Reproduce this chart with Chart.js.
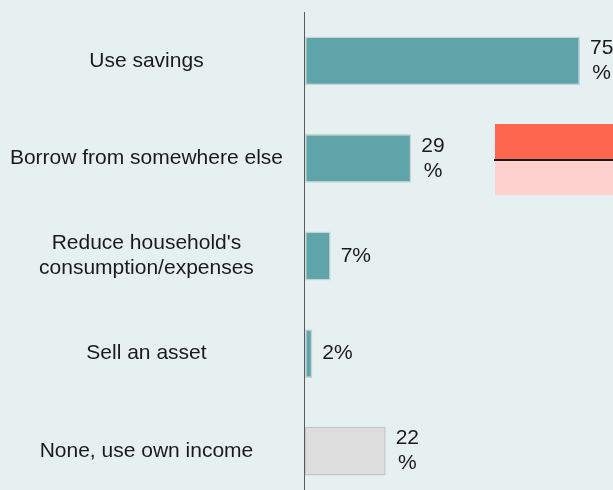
<!DOCTYPE html>
<html>
<head>
<meta charset="utf-8">
<script src="https://cdn.jsdelivr.net/npm/chart.js@4"></script>
<style>
  html, body { margin: 0; padding: 0; background: #e7f0f1; overflow: hidden; }
  #wrap { position: relative; width: 613px; height: 500px; }
  .band { position: absolute; left: 495px; width: 118px; }
</style>
</head>
<body>
<div id="wrap">
  <canvas id="coping"></canvas>
  <div class="band" style="top:124px;height:35px;background:#fe6650;"></div>
  <div class="band" style="top:161px;height:34px;background:#ffd1ce;"></div>
  <div class="band" style="top:159px;height:2px;left:494px;width:119px;background:#1a1a1a;"></div>
</div>
<script>
const categories = [
    'Use savings',
    'Borrow from somewhere else',
    ["Reduce household's", 'consumption/expenses'],
    'Sell an asset',
    'None, use own income'
];
const shares = [75, 29, 7, 2, 22];
const barColors = ['#5fa4a9', '#5fa4a9', '#5fa4a9', '#5fa4a9', '#dddddd'];
const edgeColors = ['#c7d5d6', '#c7d5d6', '#c7d5d6', '#c7d5d6', '#c4c4c4'];

const FONT = 'Liberation Sans, Arial, sans-serif';

// zero line over the bars, then the value text to the right of each bar;
// two-digit numbers break onto two lines
const valueLabels = {
    id: 'valueLabels',
    afterDatasetsDraw(chart) {
        const ctx = chart.ctx;
        const area = chart.chartArea;
        const meta = chart.getDatasetMeta(0);
        ctx.save();
        ctx.strokeStyle = '#5a5a5a';
        ctx.lineWidth = 1;
        ctx.beginPath();
        ctx.moveTo(area.left - 0.5, area.top);
        ctx.lineTo(area.left - 0.5, area.bottom);
        ctx.stroke();

        ctx.font = '21px ' + FONT;
        ctx.fillStyle = '#1a1a1a';
        ctx.textAlign = 'center';
        ctx.textBaseline = 'middle';
        meta.data.forEach((bar, i) => {
            const v = shares[i];
            const lines = v >= 10 ? [String(v), '%'] : [v + '%'];
            const w = Math.max(...lines.map(l => ctx.measureText(l).width));
            const cx = bar.x + 10 + w / 2;
            const lh = 25;
            const y0 = bar.y - (lines.length - 1) * lh / 2;
            lines.forEach((l, k) => ctx.fillText(l, cx, y0 + k * lh));
        });
        ctx.restore();
    }
};

new Chart(document.getElementById('coping'), {
    type: 'bar',
    data: {
        labels: categories,
        datasets: [{
            data: shares,
            backgroundColor: barColors,
            borderColor: edgeColors,
            borderWidth: 1.5,
            borderSkipped: false,
            categoryPercentage: 1,
            barPercentage: 0.5
        }]
    },
    options: {
        indexAxis: 'y',
        responsive: true,
        maintainAspectRatio: false,
        animation: false,
        layout: { padding: { top: 12, right: 0, left: 0, bottom: 0 } },
        plugins: {
            legend: { display: false },
            tooltip: { enabled: false }
        },
        scales: {
            x: {
                display: false,
                min: 0,
                max: 84
            },
            y: {
                afterFit(scale) {
                    scale.width = 305;
                    scale.paddingTop = 0;
                    scale.paddingBottom = 0;
                },
                grid: { display: false, drawTicks: false },
                border: { display: false },
                ticks: {
                    crossAlign: 'center',
                    padding: 22,
                    color: '#1a1a1a',
                    font: { family: FONT, size: 21, lineHeight: 1.2 }
                }
            }
        }
    },
    plugins: [valueLabels]
});
</script>
</body>
</html>
